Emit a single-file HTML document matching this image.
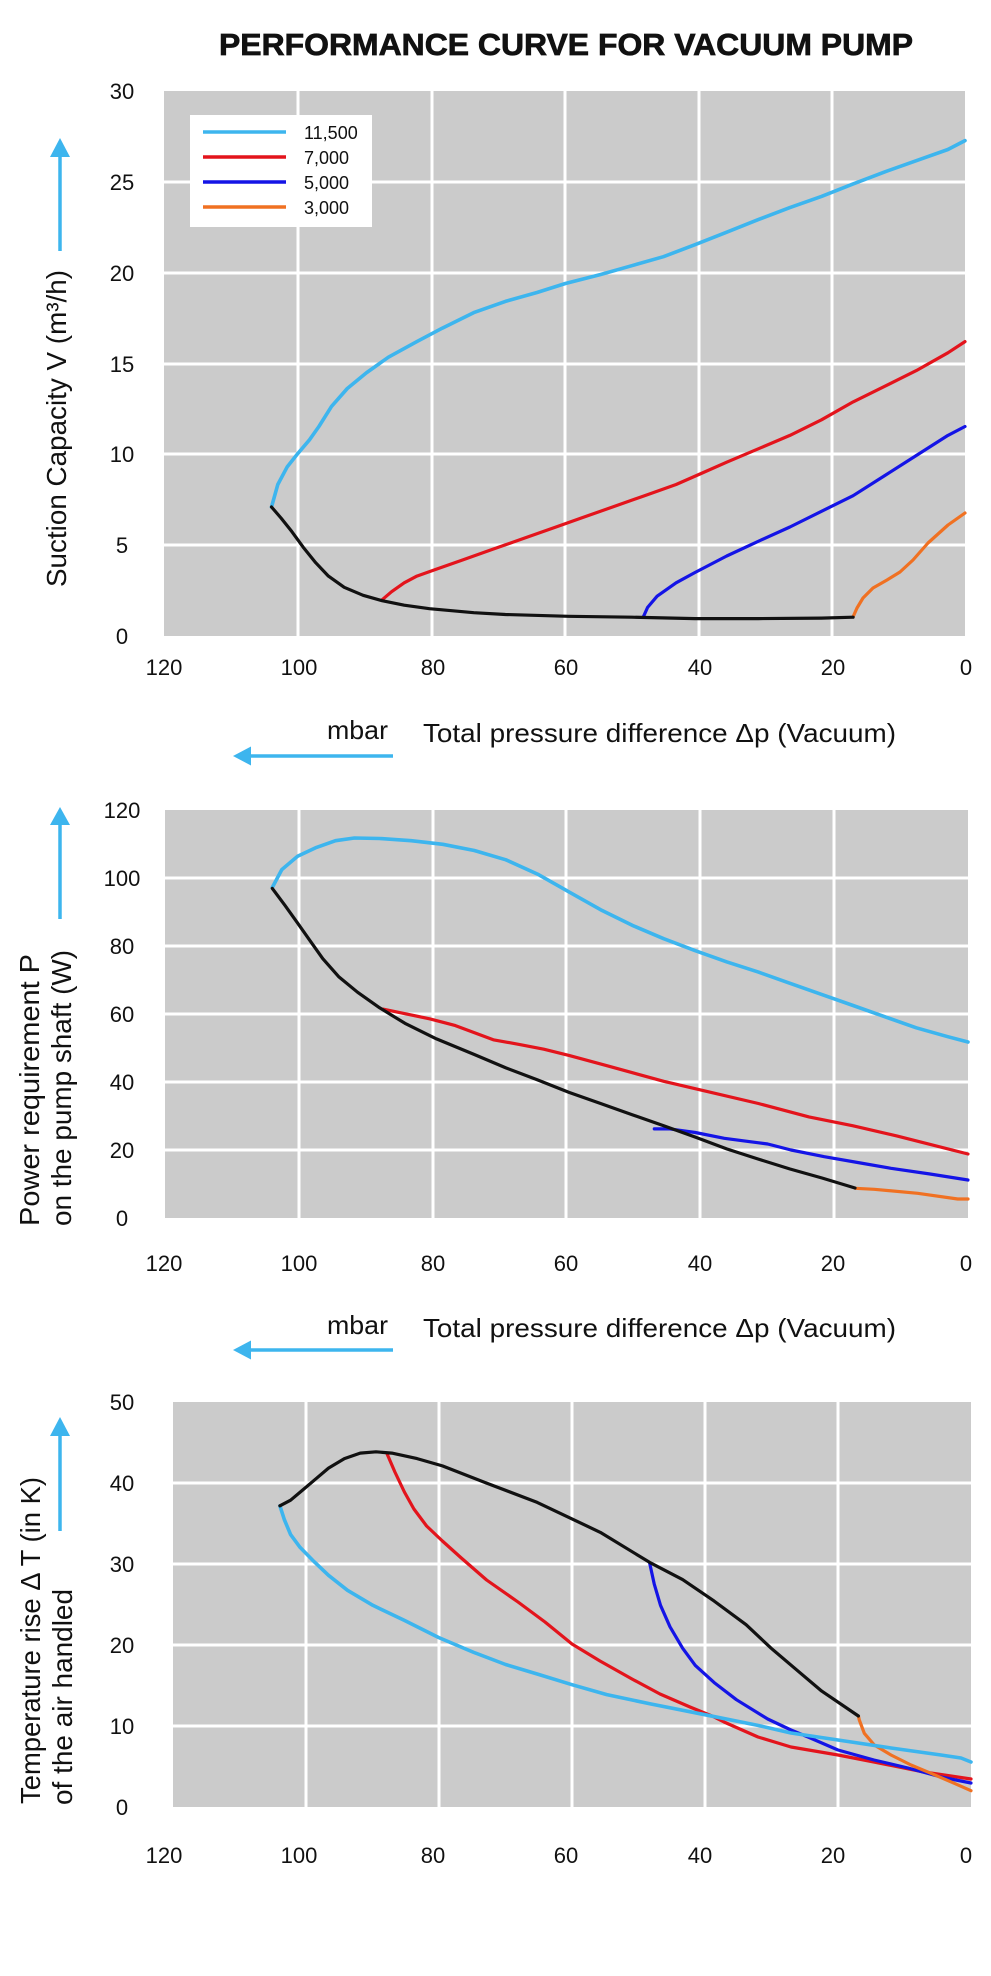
<!DOCTYPE html>
<html>
<head>
<meta charset="utf-8">
<style>
  html,body{margin:0;padding:0;background:#fff;}
  svg{display:block;}
  text{font-family:"Liberation Sans", sans-serif; fill:#111;}
  .tk{font-size:22px;}
  .yt{font-size:22px; text-anchor:middle;}
  .ax{font-size:26px;}
  .lg{font-size:18px;}
  .c{fill:none; stroke-linejoin:round; stroke-linecap:round; stroke-width:3.2;}
  .lb{stroke:#3db5ee; stroke-width:3.6;}
  .rd{stroke:#e3141c;}
  .bl{stroke:#1414e6;}
  .or{stroke:#f07122;}
  .bk{stroke:#111;}
  .g{stroke:#fff; stroke-width:3;}
  .arr{stroke:#3db5ee; stroke-width:3.5; fill:none;}
  .ah{fill:#3db5ee;}
</style>
</head>
<body>
<svg width="991" height="1976" viewBox="0 0 991 1976" xmlns="http://www.w3.org/2000/svg">
  <rect width="991" height="1976" fill="#fff"/>

  <!-- Title -->
  <text x="219" y="55" font-size="30.5" font-weight="bold" textLength="694" lengthAdjust="spacingAndGlyphs" style="stroke:#111;stroke-width:0.7;">PERFORMANCE CURVE FOR VACUUM PUMP</text>

  <!-- ================= CHART 1 ================= -->
  <rect x="164" y="91" width="801" height="545" fill="#cbcbcb"/>
  <g class="g">
    <line x1="298" y1="91" x2="298" y2="636"/>
    <line x1="432" y1="91" x2="432" y2="636"/>
    <line x1="565" y1="91" x2="565" y2="636"/>
    <line x1="699" y1="91" x2="699" y2="636"/>
    <line x1="832" y1="91" x2="832" y2="636"/>
    <line x1="164" y1="182" x2="965" y2="182"/>
    <line x1="164" y1="273" x2="965" y2="273"/>
    <line x1="164" y1="364" x2="965" y2="364"/>
    <line x1="164" y1="454" x2="965" y2="454"/>
    <line x1="164" y1="545" x2="965" y2="545"/>
  </g>

  <!-- legend -->
  <rect x="190" y="115" width="182" height="112" fill="#fff"/>
  <line x1="203" y1="132" x2="286" y2="132" stroke="#3db5ee" stroke-width="3.6"/>
  <line x1="203" y1="157" x2="286" y2="157" stroke="#e3141c" stroke-width="3.6"/>
  <line x1="203" y1="182" x2="286" y2="182" stroke="#1414e6" stroke-width="3.6"/>
  <line x1="203" y1="207" x2="286" y2="207" stroke="#f07122" stroke-width="3.6"/>
  <text class="lg" x="304" y="139">11,500</text>
  <text class="lg" x="304" y="164">7,000</text>
  <text class="lg" x="304" y="189">5,000</text>
  <text class="lg" x="304" y="214">3,000</text>

  <!-- curves chart 1 -->
  <polyline class="c lb" points="271.5,507 277.8,484.5 287.3,466.7 298,453.3 309.4,439.9 318.9,426.5 331.5,406.4 347.3,388.5 366.3,372.9 388.4,357.2 416.9,341.6 442.2,328.2 473.8,312.6 505.4,301.4 537,292.5 565.4,283.5 600.2,274.6 631.8,265.7 663.4,256.7 695,244.7 726.7,232.2 758.3,219.6 789.9,207.6 821.5,196.4 853.1,183.9 884.7,171.9 916.3,160.7 947.9,149.5 965,140.6"/>
  <polyline class="c rd" points="382.1,599.8 391.6,591.7 404.2,582.8 416.9,576.1 435.8,569.4 461.1,560.5 492.7,549.3 524.4,538.1 556,527 581.3,518 612.9,506.9 644.5,495.7 676.1,484.5 701.4,473.4 726.7,462.2 758.3,448.8 789.9,435.4 821.5,419.8 853.1,401.9 884.7,386.3 916.3,370.6 947.9,352.8 965,341.6"/>
  <polyline class="c bl" points="643.2,617.2 647.6,607.4 657.1,596.2 676.1,582.8 695,572.5 726.7,556 758.3,541.3 789.9,527 821.5,511.3 853.1,495.7 884.7,475.6 916.3,455.5 947.9,435.4 965,426.5"/>
  <polyline class="c or" points="853,617 857,608 863,598 873,588 887,580 900,572 913,560 928,543 948,525 965,513"/>
  <polyline class="c bk" points="271.5,507 281,518 291.7,531.4 303.1,547.1 315.7,562.7 328.4,576.1 344.2,587.3 363.1,595.3 382.1,600.7 404.2,605.2 429.5,608.7 473.8,612.7 505.4,614.5 568.6,616.3 631.8,617.2 695,618.6 758.3,618.6 821.5,618.1 853.1,617.2"/>

  <!-- y ticks chart 1 -->
  <text class="yt" x="122" y="99">30</text>
  <text class="yt" x="122" y="190">25</text>
  <text class="yt" x="122" y="281">20</text>
  <text class="yt" x="122" y="372">15</text>
  <text class="yt" x="122" y="462">10</text>
  <text class="yt" x="122" y="553">5</text>
  <text class="yt" x="122" y="644">0</text>
  <!-- x ticks chart 1 -->
  <g class="yt">
    <text x="164" y="675">120</text>
    <text x="299" y="675">100</text>
    <text x="433" y="675">80</text>
    <text x="566" y="675">60</text>
    <text x="700" y="675">40</text>
    <text x="833" y="675">20</text>
    <text x="966" y="675">0</text>
  </g>
  <!-- x axis label chart 1 -->
  <text class="ax" x="327" y="739" textLength="61" lengthAdjust="spacingAndGlyphs">mbar</text>
  <text class="ax" x="423" y="742" textLength="473" lengthAdjust="spacingAndGlyphs">Total pressure difference Δp (Vacuum)</text>
  <line class="arr" x1="393" y1="756" x2="246" y2="756"/>
  <polygon class="ah" points="233,756 251,746.5 251,765.5"/>
  <!-- y axis label chart 1 -->
  <line class="arr" x1="60" y1="251" x2="60" y2="152"/>
  <polygon class="ah" points="60,138 50,157 70,157"/>
  <text x="66" y="587" font-size="28" transform="rotate(-90 66 587)" textLength="317" lengthAdjust="spacingAndGlyphs">Suction Capacity V (m³/h)</text>

  <!-- ================= CHART 2 ================= -->
  <rect x="165" y="810" width="803" height="408" fill="#cbcbcb"/>
  <g class="g">
    <line x1="299" y1="810" x2="299" y2="1218"/>
    <line x1="433" y1="810" x2="433" y2="1218"/>
    <line x1="566" y1="810" x2="566" y2="1218"/>
    <line x1="700" y1="810" x2="700" y2="1218"/>
    <line x1="834" y1="810" x2="834" y2="1218"/>
    <line x1="165" y1="878" x2="968" y2="878"/>
    <line x1="165" y1="946" x2="968" y2="946"/>
    <line x1="165" y1="1014" x2="968" y2="1014"/>
    <line x1="165" y1="1082" x2="968" y2="1082"/>
    <line x1="165" y1="1150" x2="968" y2="1150"/>
  </g>
  <polyline class="c lb" points="272.3,887.5 281.8,869.6 297.6,856.3 316.5,847.4 335.5,840.7 354.4,838 379.6,838.5 411.2,840.7 442.8,844.3 474.3,850.5 505.9,859.8 537.5,874.1 569,891.9 600.6,909.7 632.2,925.3 663.7,938.7 695.3,950.7 726.9,961.9 758.4,972.1 790,983.3 821.6,994.4 853.1,1005.5 884.7,1016.7 916.3,1027.8 947.8,1036.7 968,1042"/>
  <polyline class="c rd" points="382.8,1009.1 430.1,1018.9 455.4,1025.6 493.3,1039.8 518.5,1044.3 543.8,1049.2 569,1055.4 606.9,1065.7 663.7,1081.3 701.6,1090.2 758.4,1103.5 809,1116.9 853.1,1125.8 897.3,1136.1 968,1154"/>
  <polyline class="c bl" points="654.3,1128.9 670,1128.9 695.3,1132.5 724.3,1138.3 757.7,1142.7 767.7,1144 791,1150 824.3,1156.7 857.7,1162.5 891,1168.3 930,1174 968,1180"/>
  <polyline class="c or" points="855.3,1188.3 874.3,1189.3 917.7,1193.3 957.7,1199 968,1199"/>
  <polyline class="c bk" points="272.3,888.4 284.9,905.3 297.6,923.1 310.2,940.9 322.8,958.7 338.6,976.6 357.5,992.2 379.6,1007.8 404.9,1023.3 436.5,1038.9 474.3,1054.5 505.9,1067.9 537.5,1079.9 569,1092.4 600.6,1103.5 632.2,1114.7 663.7,1125.8 695,1137 727,1149 758,1159 790,1169 822,1178 855,1188"/>

  <text class="yt" x="122" y="818">120</text>
  <text class="yt" x="122" y="886">100</text>
  <text class="yt" x="122" y="954">80</text>
  <text class="yt" x="122" y="1022">60</text>
  <text class="yt" x="122" y="1090">40</text>
  <text class="yt" x="122" y="1158">20</text>
  <text class="yt" x="122" y="1226">0</text>
  <g class="yt">
    <text x="164" y="1271">120</text>
    <text x="299" y="1271">100</text>
    <text x="433" y="1271">80</text>
    <text x="566" y="1271">60</text>
    <text x="700" y="1271">40</text>
    <text x="833" y="1271">20</text>
    <text x="966" y="1271">0</text>
  </g>
  <text class="ax" x="327" y="1334" textLength="61" lengthAdjust="spacingAndGlyphs">mbar</text>
  <text class="ax" x="423" y="1337" textLength="473" lengthAdjust="spacingAndGlyphs">Total pressure difference Δp (Vacuum)</text>
  <line class="arr" x1="393" y1="1350" x2="246" y2="1350"/>
  <polygon class="ah" points="233,1350 251,1340.5 251,1359.5"/>
  <line class="arr" x1="60" y1="919" x2="60" y2="820"/>
  <polygon class="ah" points="60,807 50,825 70,825"/>
  <text x="39" y="1226" font-size="28" transform="rotate(-90 39 1226)" textLength="272" lengthAdjust="spacingAndGlyphs">Power requirement P</text>
  <text x="71" y="1226" font-size="28" transform="rotate(-90 71 1226)" textLength="276" lengthAdjust="spacingAndGlyphs">on the pump shaft (W)</text>

  <!-- ================= CHART 3 ================= -->
  <rect x="173" y="1402" width="798" height="405" fill="#cbcbcb"/>
  <g class="g">
    <line x1="306" y1="1402" x2="306" y2="1807"/>
    <line x1="439" y1="1402" x2="439" y2="1807"/>
    <line x1="572" y1="1402" x2="572" y2="1807"/>
    <line x1="705" y1="1402" x2="705" y2="1807"/>
    <line x1="838" y1="1402" x2="838" y2="1807"/>
    <line x1="173" y1="1483" x2="971" y2="1483"/>
    <line x1="173" y1="1564" x2="971" y2="1564"/>
    <line x1="173" y1="1645" x2="971" y2="1645"/>
    <line x1="173" y1="1726" x2="971" y2="1726"/>
  </g>
  <polyline class="c rd" points="386.7,1453 394.9,1472 404.4,1492 413.9,1509 426.6,1526 442.4,1541 461.3,1558 486.6,1580 518,1602 545,1622 572,1644 600,1661 632,1679 660,1694 690,1707 712,1716 724,1722 758,1737 791,1747 838,1755 874,1762 924,1772 971,1779"/>
  <polyline class="c bl" points="649.7,1563.3 654.2,1583.9 660.5,1605.3 670,1626.8 682.6,1648.2 695.3,1665.4 714.2,1682.6 736.4,1699.7 767.7,1719 791,1730 808,1737 838,1750 874,1760 908,1768 941,1777 971,1783"/>
  <polyline class="c or" points="858.4,1716 859.3,1720 864.3,1733.3 874.3,1745 891,1755 911,1765 931,1773.3 954.3,1783.3 971,1790.7"/>
  <polyline class="c lb" points="279.9,1505.8 284.3,1519.5 290.6,1534.6 300.1,1547.4 312.7,1560.3 328.5,1575.3 347.5,1590.3 372.8,1605.3 404.4,1620.4 438.6,1637.5 474,1652.5 505.6,1664.5 537.2,1674 572,1684.7 606.8,1694.6 651,1704 704.8,1714.7 758.5,1725.5 791,1733 838,1740 891,1748 941,1755 961,1758 971,1762"/>
  <polyline class="c bk" points="279.9,1505.8 290.6,1500.2 303.3,1489.5 315.9,1478.8 328.5,1468.1 344.4,1458.6 360.2,1453.1 376,1451.8 391.8,1453.1 417.1,1458.6 442.4,1465.9 486.6,1483.1 537.2,1502.4 600.4,1532.4 649.7,1562.4 682.6,1579.6 714.2,1601.1 746.1,1624.7 771.1,1648.2 796.4,1669.7 821.7,1691.1 858.4,1716"/>

  <text class="yt" x="122" y="1410">50</text>
  <text class="yt" x="122" y="1491">40</text>
  <text class="yt" x="122" y="1572">30</text>
  <text class="yt" x="122" y="1653">20</text>
  <text class="yt" x="122" y="1734">10</text>
  <text class="yt" x="122" y="1815">0</text>
  <g class="yt">
    <text x="164" y="1863">120</text>
    <text x="299" y="1863">100</text>
    <text x="433" y="1863">80</text>
    <text x="566" y="1863">60</text>
    <text x="700" y="1863">40</text>
    <text x="833" y="1863">20</text>
    <text x="966" y="1863">0</text>
  </g>
  <line class="arr" x1="60" y1="1531" x2="60" y2="1430"/>
  <polygon class="ah" points="60,1417 50,1436 70,1436"/>
  <text x="40" y="1804" font-size="28" transform="rotate(-90 40 1804)" textLength="327" lengthAdjust="spacingAndGlyphs">Temperature rise Δ T (in K)</text>
  <text x="72" y="1805" font-size="28" transform="rotate(-90 72 1805)" textLength="216" lengthAdjust="spacingAndGlyphs">of the air handled</text>
</svg>
</body>
</html>
